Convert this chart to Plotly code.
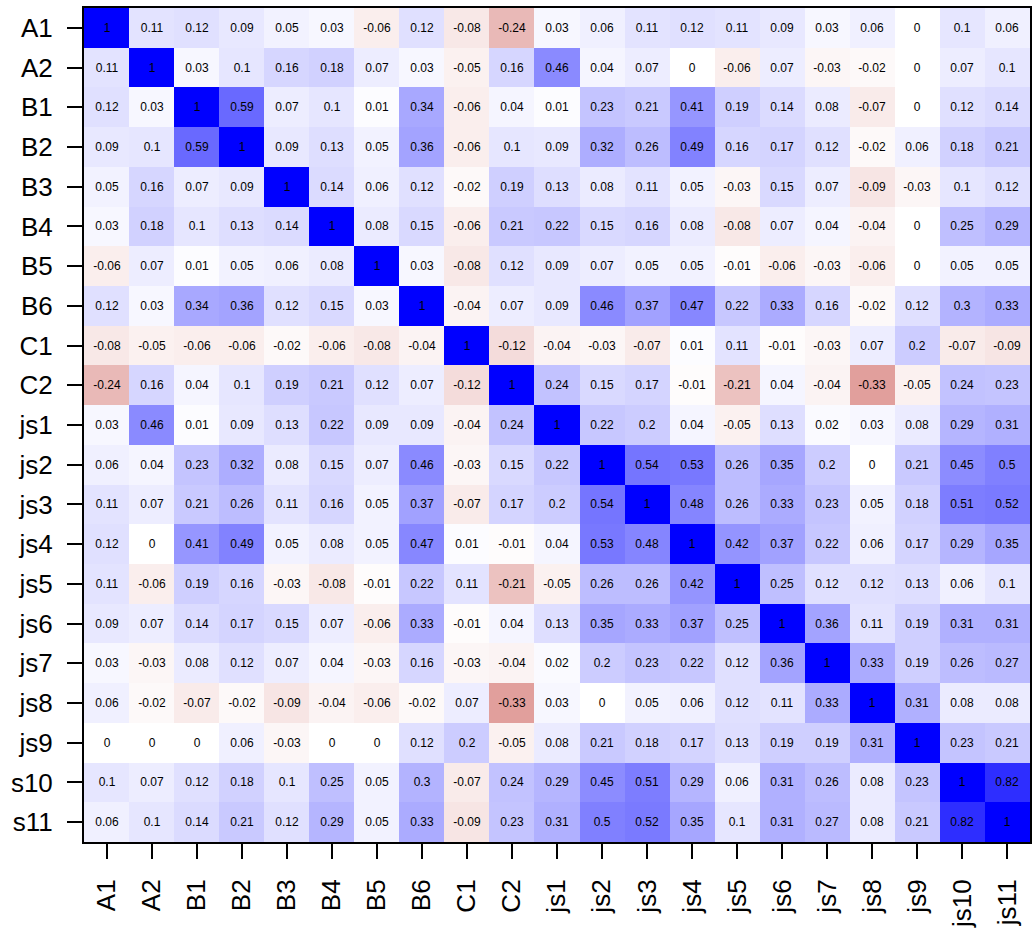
import plotly.graph_objects as go

col_labels = ["A1", "A2", "B1", "B2", "B3", "B4", "B5", "B6", "C1", "C2",
              "js1", "js2", "js3", "js4", "js5", "js6", "js7", "js8", "js9", "js10", "js11"]
row_labels = ["A1", "A2", "B1", "B2", "B3", "B4", "B5", "B6", "C1", "C2",
              "js1", "js2", "js3", "js4", "js5", "js6", "js7", "js8", "js9", "s10", "s11"]

r_A1 = [1, 0.11, 0.12, 0.09, 0.05, 0.03, -0.06, 0.12, -0.08, -0.24, 0.03, 0.06, 0.11, 0.12, 0.11, 0.09, 0.03, 0.06, 0, 0.1, 0.06]
r_A2 = [0.11, 1, 0.03, 0.1, 0.16, 0.18, 0.07, 0.03, -0.05, 0.16, 0.46, 0.04, 0.07, 0, -0.06, 0.07, -0.03, -0.02, 0, 0.07, 0.1]
r_B1 = [0.12, 0.03, 1, 0.59, 0.07, 0.1, 0.01, 0.34, -0.06, 0.04, 0.01, 0.23, 0.21, 0.41, 0.19, 0.14, 0.08, -0.07, 0, 0.12, 0.14]
r_B2 = [0.09, 0.1, 0.59, 1, 0.09, 0.13, 0.05, 0.36, -0.06, 0.1, 0.09, 0.32, 0.26, 0.49, 0.16, 0.17, 0.12, -0.02, 0.06, 0.18, 0.21]
r_B3 = [0.05, 0.16, 0.07, 0.09, 1, 0.14, 0.06, 0.12, -0.02, 0.19, 0.13, 0.08, 0.11, 0.05, -0.03, 0.15, 0.07, -0.09, -0.03, 0.1, 0.12]
r_B4 = [0.03, 0.18, 0.1, 0.13, 0.14, 1, 0.08, 0.15, -0.06, 0.21, 0.22, 0.15, 0.16, 0.08, -0.08, 0.07, 0.04, -0.04, 0, 0.25, 0.29]
r_B5 = [-0.06, 0.07, 0.01, 0.05, 0.06, 0.08, 1, 0.03, -0.08, 0.12, 0.09, 0.07, 0.05, 0.05, -0.01, -0.06, -0.03, -0.06, 0, 0.05, 0.05]
r_B6 = [0.12, 0.03, 0.34, 0.36, 0.12, 0.15, 0.03, 1, -0.04, 0.07, 0.09, 0.46, 0.37, 0.47, 0.22, 0.33, 0.16, -0.02, 0.12, 0.3, 0.33]
r_C1 = [-0.08, -0.05, -0.06, -0.06, -0.02, -0.06, -0.08, -0.04, 1, -0.12, -0.04, -0.03, -0.07, 0.01, 0.11, -0.01, -0.03, 0.07, 0.2, -0.07, -0.09]
r_C2 = [-0.24, 0.16, 0.04, 0.1, 0.19, 0.21, 0.12, 0.07, -0.12, 1, 0.24, 0.15, 0.17, -0.01, -0.21, 0.04, -0.04, -0.33, -0.05, 0.24, 0.23]
r_js1 = [0.03, 0.46, 0.01, 0.09, 0.13, 0.22, 0.09, 0.09, -0.04, 0.24, 1, 0.22, 0.2, 0.04, -0.05, 0.13, 0.02, 0.03, 0.08, 0.29, 0.31]
r_js2 = [0.06, 0.04, 0.23, 0.32, 0.08, 0.15, 0.07, 0.46, -0.03, 0.15, 0.22, 1, 0.54, 0.53, 0.26, 0.35, 0.2, 0, 0.21, 0.45, 0.5]
r_js3 = [0.11, 0.07, 0.21, 0.26, 0.11, 0.16, 0.05, 0.37, -0.07, 0.17, 0.2, 0.54, 1, 0.48, 0.26, 0.33, 0.23, 0.05, 0.18, 0.51, 0.52]
r_js4 = [0.12, 0, 0.41, 0.49, 0.05, 0.08, 0.05, 0.47, 0.01, -0.01, 0.04, 0.53, 0.48, 1, 0.42, 0.37, 0.22, 0.06, 0.17, 0.29, 0.35]
r_js5 = [0.11, -0.06, 0.19, 0.16, -0.03, -0.08, -0.01, 0.22, 0.11, -0.21, -0.05, 0.26, 0.26, 0.42, 1, 0.25, 0.12, 0.12, 0.13, 0.06, 0.1]
r_js6 = [0.09, 0.07, 0.14, 0.17, 0.15, 0.07, -0.06, 0.33, -0.01, 0.04, 0.13, 0.35, 0.33, 0.37, 0.25, 1, 0.36, 0.11, 0.19, 0.31, 0.31]
r_js7 = [0.03, -0.03, 0.08, 0.12, 0.07, 0.04, -0.03, 0.16, -0.03, -0.04, 0.02, 0.2, 0.23, 0.22, 0.12, 0.36, 1, 0.33, 0.19, 0.26, 0.27]
r_js8 = [0.06, -0.02, -0.07, -0.02, -0.09, -0.04, -0.06, -0.02, 0.07, -0.33, 0.03, 0, 0.05, 0.06, 0.12, 0.11, 0.33, 1, 0.31, 0.08, 0.08]
r_js9 = [0, 0, 0, 0.06, -0.03, 0, 0, 0.12, 0.2, -0.05, 0.08, 0.21, 0.18, 0.17, 0.13, 0.19, 0.19, 0.31, 1, 0.23, 0.21]
r_js10 = [0.1, 0.07, 0.12, 0.18, 0.1, 0.25, 0.05, 0.3, -0.07, 0.24, 0.29, 0.45, 0.51, 0.29, 0.06, 0.31, 0.26, 0.08, 0.23, 1, 0.82]
r_js11 = [0.06, 0.1, 0.14, 0.21, 0.12, 0.29, 0.05, 0.33, -0.09, 0.23, 0.31, 0.5, 0.52, 0.35, 0.1, 0.31, 0.27, 0.08, 0.21, 0.82, 1]

z = [r_A1, r_A2, r_B1, r_B2, r_B3, r_B4, r_B5, r_B6, r_C1, r_C2,
     r_js1, r_js2, r_js3, r_js4, r_js5, r_js6, r_js7, r_js8, r_js9, r_js10, r_js11]
text = [["%g" % v for v in row] for row in z]

FONT = "Liberation Sans, Arial, Helvetica, sans-serif"

fig = go.Figure(go.Heatmap(
    z=z, x=col_labels, y=row_labels,
    text=text, texttemplate="%{text}",
    textfont=dict(family=FONT, size=12, color="black"),
    zmin=-1, zmax=1,
    colorscale=[[0.0, "rgb(150,0,0)"], [0.25, "rgb(210,110,105)"],
                [0.5, "rgb(255,255,255)"], [1.0, "rgb(0,0,255)"]],
    showscale=False, hoverinfo="skip", xgap=0, ygap=0,
))

fig.update_layout(
    width=1033, height=928,
    margin=dict(l=84, r=3, t=8, b=86),
    paper_bgcolor="white", plot_bgcolor="white",
    font=dict(family=FONT, size=26, color="black"),
)
fig.update_xaxes(
    type="category", tickangle=-90, ticks="outside", ticklen=15, tickwidth=1.5,
    tickcolor="black", ticklabelstandoff=10, automargin=False,
    showline=True, linecolor="black", linewidth=2, mirror=True,
    showgrid=False, zeroline=False, tickfont=dict(size=26, family=FONT),
)
fig.update_yaxes(
    type="category", autorange="reversed", ticks="outside", ticklen=15, tickwidth=1.5,
    tickcolor="black", ticklabelstandoff=9, automargin=False,
    showline=True, linecolor="black", linewidth=2, mirror=True,
    showgrid=False, zeroline=False, tickfont=dict(size=26, family=FONT),
)

fig.write_html("out.html",
               config={"displayModeBar": False},
               post_script="document.body.style.margin='0';document.body.style.overflow='hidden';")
